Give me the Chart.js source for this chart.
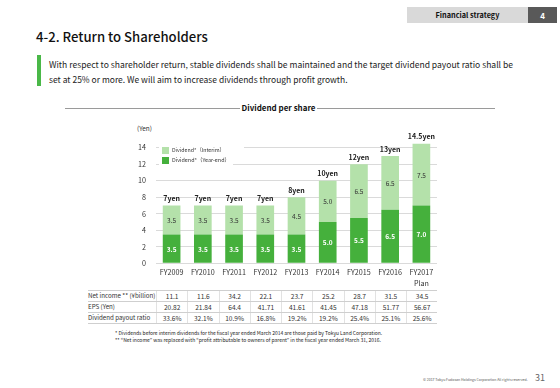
<!DOCTYPE html>
<html>
<head>
<meta charset="utf-8">
<script src="https://cdn.jsdelivr.net/npm/chart.js@4.4.1/dist/chart.umd.min.js"></script>
<style>
  html, body { margin:0; padding:0; background:#fff; }
  body { width:560px; height:388px; position:relative; overflow:hidden;
         font-family:'Noto Sans CJK JP','Noto Sans',sans-serif; color:#222; }
  .abs { position:absolute; white-space:nowrap; line-height:1; }
  #chart { position:absolute; left:0; top:0; z-index:1; }
  .legend { z-index:2; }
  table { border-collapse:collapse; }
  td { padding:0; height:10px; font-size:6.6px; line-height:1; color:#333; text-align:center;
       border-bottom:1px solid #cfcfcf; border-left:1px solid #e2e2e2; }
  td.lab { text-align:left; border-left:none; font-size:6.2px; }
  tr:first-child td { border-top:1px solid #cfcfcf; }
</style>
</head>
<body>
<div class="abs" style="left:407px;top:7px;width:121px;height:16px;background:#d9d9d9;"></div>
<div class="abs" style="left:528px;top:7px;width:29px;height:16px;background:#595959;"></div>
<div class="abs fit" data-w="64" data-cx="467.5" data-cy="15.5" style="font-weight:bold;font-size:8px;color:#111;">Financial strategy</div>
<div class="abs fit" data-cx="542.5" data-cy="15.5" style="font-weight:bold;font-size:8px;color:#fff;">4</div>

<div class="abs fit" data-w="172" data-x="36" data-cy="37" style="font-size:14px;font-weight:500;color:#111;">4-2. Return to Shareholders</div>
<div class="abs" style="left:37px;top:55px;width:4px;height:31px;background:#4ab848;"></div>
<div class="abs fit" data-w="465" data-x="49" data-cy="64" style="font-size:9px;color:#222;">With respect to shareholder return, stable dividends shall be maintained and the target dividend payout ratio shall be</div>
<div class="abs fit" data-w="299" data-x="49" data-cy="79.5" style="font-size:9px;color:#222;">set at 25% or more. We will aim to increase dividends through profit growth.</div>

<div class="abs" style="left:65px;top:108px;width:430px;height:1px;background:#9a9a9a;"></div>
<div class="abs fit" data-w="74" data-cx="278.5" data-cy="108" style="font-weight:bold;font-size:8px;color:#111;background:#fff;padding:0 2px;">Dividend per share</div>

<div class="abs fit" data-w="15" data-x="137" data-cy="129" style="font-size:6px;color:#333;">(Yen)</div>

<div class="abs legend" style="left:159px;top:144px;width:85px;height:9px;background:#fff;"></div>
<div class="abs legend" style="left:159px;top:154px;width:74px;height:11px;background:#fff;"></div>
<div class="abs legend" id="sw1" style="left:162px;top:147px;width:7px;height:7px;"></div>
<div class="abs legend" id="sw2" style="left:162px;top:157px;width:7px;height:7px;"></div>
<div class="abs fit legend" id="lg1" data-w="53" data-x="172" data-cy="150.5" style="font-size:6.5px;color:#333;"></div>
<div class="abs fit legend" id="lg2" data-w="58" data-x="172" data-cy="160.5" style="font-size:6.5px;color:#333;"></div>

<div class="abs" style="left:88px;top:290px;">
  <table id="tbl"></table>
</div>

<canvas id="chart" width="560" height="388"></canvas>

<div class="abs fit" data-w="267" data-x="115" data-cy="333" style="font-size:5.2px;color:#222;">* Dividends before interim dividends for the fiscal year ended March 2014 are those paid by Tokyu Land Corporation.</div>
<div class="abs fit" data-w="266" data-x="115" data-cy="339.5" style="font-size:5.2px;color:#222;">** “Net income” was replaced with “profit attributable to owners of parent” in the fiscal year ended March 31, 2016.</div>

<div class="abs fit" data-w="105" data-x="423" data-cy="380" style="font-size:4px;color:#555;">© 2017 Tokyu Fudosan Holdings Corporation All rights reserved.</div>
<div class="abs fit" data-w="10" data-x="535" data-cy="377.5" style="font-size:7.5px;color:#666;">31</div>

<script>
// ---- data ----
const categories = ['FY2009','FY2010','FY2011','FY2012','FY2013','FY2014','FY2015','FY2016','FY2017'];
const categorySubLabels = ['','','','','','','','','Plan'];
const seriesNames = ['Dividend*（Interim）','Dividend*（Year-end）'];
const interim = [3.5, 3.5, 3.5, 3.5, 4.5, 5.0, 6.5, 6.5, 7.5];
const yearEnd = [3.5, 3.5, 3.5, 3.5, 3.5, 5.0, 5.5, 6.5, 7.0];
const totalLabels = ['7yen','7yen','7yen','7yen','8yen','10yen','12yen','13yen','14.5yen'];
const yTicks = [0, 2, 4, 6, 8, 10, 12, 14];
const rowLabels = ['Net income ** (¥billion)','EPS (Yen)','Dividend payout ratio'];
const netIncome = ['11.1','11.6','34.2','22.1','23.7','25.2','28.7','31.5','34.5'];
const eps = ['20.82','21.84','64.4','41.71','41.61','41.45','47.18','51.77','56.67'];
const payoutRatio = ['33.6%','32.1%','10.9%','16.8%','19.2%','19.2%','25.4%','25.1%','25.6%'];

const colInterim = '#b4e1aa';
const colYearEnd = '#45b03c';

// legend
document.getElementById('sw1').style.background = colInterim;
document.getElementById('sw2').style.background = colYearEnd;
document.getElementById('lg1').textContent = seriesNames[0];
document.getElementById('lg2').textContent = seriesNames[1];

// table
const tbl = document.getElementById('tbl');
[netIncome, eps, payoutRatio].forEach((row, r) => {
  const tr = document.createElement('tr');
  const th = document.createElement('td');
  th.className = 'lab'; th.textContent = rowLabels[r]; th.style.width = '68px';
  tr.appendChild(th);
  row.forEach(v => {
    const td = document.createElement('td');
    td.textContent = v; td.style.width = '30.25px';
    tr.appendChild(td);
  });
  tbl.appendChild(tr);
});

// fit texts
document.querySelectorAll('.fit').forEach(el => {
  if (el.dataset.w) {
    const fs = parseFloat(el.style.fontSize);
    const w = el.getBoundingClientRect().width;
    const pad = el.style.padding ? 4 : 0;
    el.style.fontSize = (fs * parseFloat(el.dataset.w) / (w - pad)) + 'px';
  }
  const r = el.getBoundingClientRect();
  if (el.dataset.x) el.style.left = el.dataset.x + 'px';
  if (el.dataset.cx) el.style.left = (parseFloat(el.dataset.cx) - r.width / 2) + 'px';
  if (el.dataset.cy) el.style.top = (parseFloat(el.dataset.cy) - r.height / 2) + 'px';
});

const FONT = "'Noto Sans CJK JP','Noto Sans',sans-serif";

const labelPlugin = {
  id: 'barLabels',
  afterDatasetsDraw(chart) {
    const ctx = chart.ctx;
    const m0 = chart.getDatasetMeta(0);
    const m1 = chart.getDatasetMeta(1);
    ctx.save();
    ctx.textAlign = 'center';
    ctx.textBaseline = 'middle';
    m0.data.forEach((bar, i) => {
      ctx.font = 'bold 6.5px ' + FONT;
      ctx.fillStyle = '#ffffff';
      ctx.fillText(yearEnd[i].toFixed(1), bar.x, (bar.y + bar.base) / 2 + 0.5);
      const b1 = m1.data[i];
      ctx.font = '6.5px ' + FONT;
      ctx.fillStyle = '#333333';
      ctx.fillText(interim[i].toFixed(1), b1.x, (b1.y + b1.base) / 2 + 0.5);
      ctx.font = 'bold 7px ' + FONT;
      ctx.fillStyle = '#222222';
      ctx.fillText(totalLabels[i], b1.x, b1.y - 7);
    });
    ctx.restore();
  }
};

new Chart(document.getElementById('chart'), {
  type: 'bar',
  data: {
    labels: categories.map((c, i) => categorySubLabels[i] ? [c, categorySubLabels[i]] : c),
    datasets: [
      { label: seriesNames[1], data: yearEnd, backgroundColor: colYearEnd, borderWidth: 0,
        barPercentage: 0.566, categoryPercentage: 1.0, stack: 's' },
      { label: seriesNames[0], data: interim, backgroundColor: colInterim, borderWidth: 0,
        barPercentage: 0.566, categoryPercentage: 1.0, stack: 's' }
    ]
  },
  options: {
    responsive: false,
    animation: false,
    devicePixelRatio: 1,
    layout: { padding: { left: 100, right: 123, top: 143.6, bottom: 94.7 } },
    plugins: { legend: { display: false }, tooltip: { enabled: false } },
    scales: {
      x: {
        stacked: true,
        grid: { display: false, drawTicks: false, tickLength: 0 },
        border: { display: false },
        ticks: { color: '#333', font: { family: FONT, size: 7.2, lineHeight: '10.6px' }, padding: 4,
                 maxRotation: 0, autoSkip: false },
        afterFit(s) { s.height = 30; }
      },
      y: {
        stacked: true,
        min: 0, max: 14.5,
        afterBuildTicks(s) { s.ticks = yTicks.map(v => ({ value: v })); },
        grid: { color: '#dadada', drawTicks: false, tickLength: 0 },
        border: { display: false },
        ticks: { color: '#333', font: { family: FONT, size: 7.2 }, padding: 10 },
        afterFit(s) { s.width = 56; }
      }
    }
  },
  plugins: [labelPlugin]
});
</script>
</body>
</html>
